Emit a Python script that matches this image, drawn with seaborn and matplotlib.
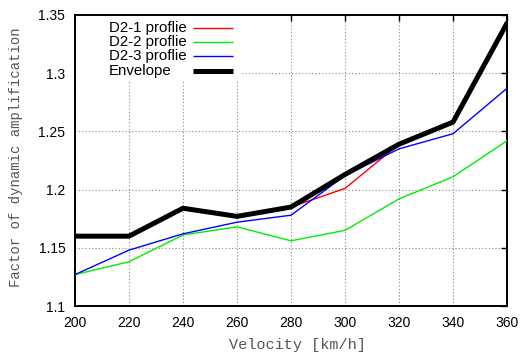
import matplotlib
matplotlib.use("Agg")
import matplotlib.pyplot as plt
from matplotlib.patches import Rectangle
from matplotlib.lines import Line2D
import numpy as np
import pandas as pd
import seaborn as sns

# Train speeds and dynamic amplification factors per profile
velocity = [200, 220, 240, 260, 280, 300, 320, 340, 360]
d2_1 = [1.160, 1.160, 1.184, 1.177, 1.185, 1.201, 1.239, 1.258, 1.343]
d2_2 = [1.127, 1.138, 1.161, 1.168, 1.156, 1.165, 1.192, 1.211, 1.242]
d2_3 = [1.127, 1.148, 1.162, 1.172, 1.178, 1.212, 1.235, 1.248, 1.287]
envelope = [1.160, 1.160, 1.184, 1.177, 1.185, 1.213, 1.239, 1.258, 1.343]

series_names = ["D2-1 proflie", "D2-2 proflie", "D2-3 proflie", "Envelope"]
x_ticks = [200, 220, 240, 260, 280, 300, 320, 340, 360]
y_ticks = [1.1, 1.15, 1.2, 1.25, 1.3, 1.35]
y_tick_labels = ["1.1", "1.15", "1.2", "1.25", "1.3", "1.35"]

df = pd.DataFrame({
    "velocity": velocity * 4,
    "factor": d2_1 + d2_2 + d2_3 + envelope,
    "series": sum([[n] * len(velocity) for n in series_names], []),
})

sns.set_style("white")
plt.rcParams["font.family"] = ["Liberation Sans", "DejaVu Sans"]

W, H = 527, 358
fig = plt.figure(figsize=(W / 100, H / 100), dpi=100)
ax_l, ax_r, ax_t, ax_b = 75, 507, 15, 306
ax = fig.add_axes([ax_l / W, 1 - ax_b / H, (ax_r - ax_l) / W, (ax_b - ax_t) / H])

styles = {
    "D2-1 proflie": ("#ff0000", 1.0),
    "D2-2 proflie": ("#00ee00", 1.0),
    "D2-3 proflie": ("#0000ff", 1.0),
    "Envelope": ("#000000", 3.6),
}
for name in series_names:
    color, lw = styles[name]
    sns.lineplot(data=df[df["series"] == name], x="velocity", y="factor",
                 ax=ax, color=color, linewidth=lw, legend=False,
                 zorder=4 if name == "Envelope" else 3)

ax.set_xlim(200, 360)
ax.set_ylim(1.1, 1.35)
ax.set_xticks(x_ticks)
ax.set_xticklabels([str(v) for v in x_ticks])
ax.set_yticks(y_ticks)
ax.set_yticklabels(y_tick_labels)

ax.grid(True, linestyle=(0, (1, 2)), color="#888888", linewidth=0.8, zorder=0)
ax.set_axisbelow(True)

for spine in ax.spines.values():
    spine.set_visible(True)
    spine.set_color("black")
    spine.set_linewidth(1.4)

ax.tick_params(axis="both", direction="in", length=4, width=1.0,
               top=True, right=True, labelsize=10, colors="black")
ax.tick_params(axis="x", pad=7)
ax.tick_params(axis="y", pad=7)

mono = ["Liberation Mono", "DejaVu Sans Mono"]
ax.set_xlabel("Velocity [km/h]", family=mono, fontsize=11, color="#555555")
ax.xaxis.set_label_coords(0.515, -0.11)
ax.set_ylabel("Factor of dynamic amplification", family=mono, fontsize=10,
              color="#555555")
ax.yaxis.set_label_coords(-0.12, 0.512)


def ax_frac(px, py):
    """Convert figure pixel position to axes fraction."""
    return (px - ax_l) / (ax_r - ax_l), (ax_b - py) / (ax_b - ax_t)


# Key box in the upper-left corner, blanking the grid behind it
x0, y0 = ax_frac(76, 80)
x1, y1 = ax_frac(242, 16)
ax.add_patch(Rectangle((x0, y0), x1 - x0, y1 - y0, transform=ax.transAxes,
                       facecolor="white", edgecolor="none", zorder=2))

row_y = [28.3, 42.3, 56.3, 70.8]
for name, py in zip(series_names, row_y):
    color, lw = styles[name]
    tx, ty = ax_frac(109, py)
    ax.text(tx, ty, name, transform=ax.transAxes, fontsize=10.8,
            ha="left", va="center", color="black", zorder=5)
    hx0, hy = ax_frac(193, py)
    hx1, _ = ax_frac(233, py)
    ax.add_line(Line2D([hx0, hx1], [hy, hy], transform=ax.transAxes,
                       color=color, linewidth=lw, solid_capstyle="butt",
                       zorder=5))

fig.savefig("out.png", dpi=100)
